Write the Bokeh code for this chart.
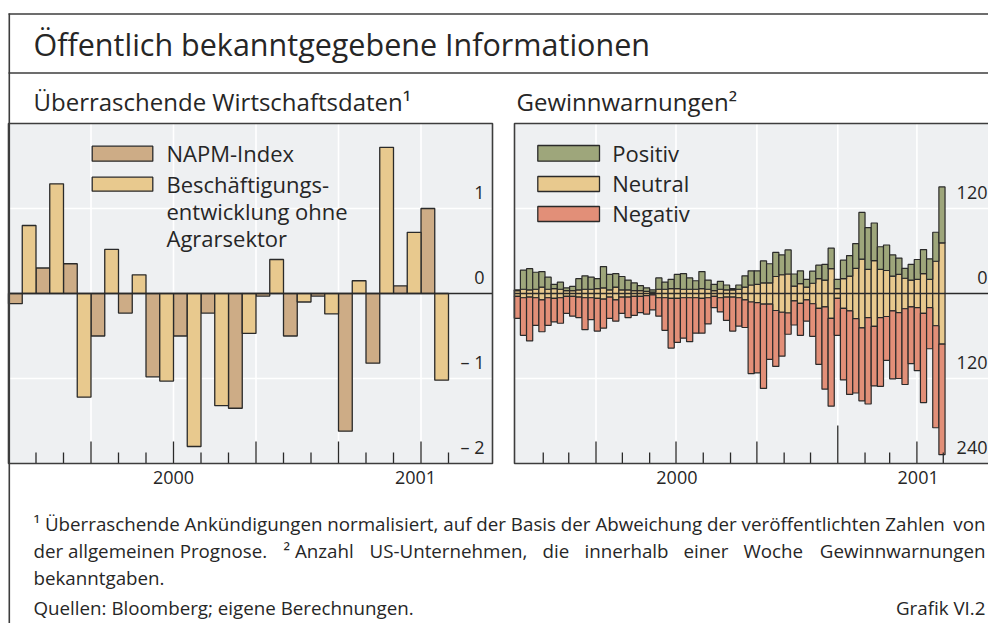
import numpy as np
import pandas as pd
from bokeh.plotting import figure
from bokeh.models import Range1d
from bokeh.core.properties import value
from bokeh.embed import file_html
from bokeh.resources import INLINE

# ---------------- data ----------------
months = ["2000-01", "2000-02", "2000-03", "2000-04", "2000-05", "2000-06",
          "2000-07", "2000-08", "2000-09", "2000-10", "2000-11", "2000-12",
          "2001-01", "2001-02", "2001-03", "2001-04"]
napm_index = [-0.12, 0.30, 0.35, -0.50, -0.23, -0.98, -0.50, -0.23,
              -1.35, -0.03, -0.50, -0.03, -1.62, -0.82, 0.09, 1.00]
employment = [0.80, 1.29, -1.22, 0.52, 0.22, -1.03, -1.80, -1.32,
              -0.47, 0.40, -0.10, -0.24, 0.15, 1.72, 0.72, -1.02]

first_week_end = "2000-01-07"
positive = [1, 27, 30, 24, 22, 17, 6, 10, 4, 6,
            16, 19, 17, 14, 30, 22, 19, 19, 14, 11,
            7, 5, 3, 16, 10, 13, 20, 22, 16, 12,
            24, 13, 9, 11, 7, 2, 6, 16, 20, 19,
            31, 27, 34, 28, 34, 17, 18, 11, 17, 19,
            22, 29, 13, 26, 29, 35, 66, 59, 53, 32,
            36, 30, 23, 14, 22, 28, 34, 29, 41, 79]
neutral = [8, 12, 10, 12, 18, 12, 14, 12, 8, 8,
           10, 12, 12, 14, 16, 10, 18, 10, 10, 8,
           8, 6, 4, 12, 12, 14, 14, 12, 12, 12,
           14, 12, 8, 12, 10, 10, 12, 18, 24, 26,
           30, 30, 48, 53, 55, 21, 28, 18, 29, 42,
           38, 70, 14, 42, 49, 71, 97, 68, 93, 68,
           65, 49, 54, 43, 38, 40, 56, 40, 91, 143]
negative = [31, 53, 62, 39, 45, 39, 33, 36, 24, 28,
            29, 45, 31, 46, 41, 30, 30, 23, 29, 27,
            23, 26, 21, 26, 46, 70, 62, 57, 62, 50,
            49, 37, 16, 20, 33, 48, 40, 39, 101, 99,
            119, 78, 79, 62, 30, 34, 45, 30, 46, 79,
            116, 124, 52, 101, 118, 105, 103, 122, 84, 97,
            62, 96, 93, 107, 80, 89, 126, 58, 144, 156]

left_tick_values = [1, 0, -1, -2]
left_tick_labels = ["1", "0", "\u2013 1", "\u2013 2"]
right_tick_values = [120, 0, -120, -240]
right_tick_labels = ["120", "0", "120", "240"]
year_labels = ["2000", "2001"]

legend_left = ["NAPM-Index", "Besch\u00e4ftigungs-\nentwicklung ohne\nAgrarsektor"]
legend_right = ["Positiv", "Neutral", "Negativ"]

title = "\u00d6ffentlich bekanntgegebene Informationen"
sub_left = "\u00dcberraschende Wirtschaftsdaten\u00b9"
sub_right = "Gewinnwarnungen\u00b2"

note1 = ["\u00b9 \u00dcberraschende Ank\u00fcndigungen normalisiert, auf der Basis der Abweichung der ver\u00f6ffentlichten Zahlen", "von"]
note2 = ["der allgemeinen Prognose.", "\u00b2 Anzahl", "US-Unternehmen,", "die", "innerhalb", "einer", "Woche", "Gewinnwarnungen"]
note3 = "bekanntgaben."
source = "Quellen: Bloomberg; eigene Berechnungen."
chart_id = "Grafik VI.2"

# ---------------- style / layout ----------------
W, H = 988, 623
X0, Y0 = 0, 0
FONT = value("Open Sans")
INK = "#262626"
FRAME = "#3d3d3d"
OUTLINE = "#2a2a2a"
PANEL_BG = "#eef0f2"
GRID = "#ffffff"
C_NAPM = "#cdac86"
C_EMP = "#e8c98e"
C_POS = "#9ea67b"
C_NEU = "#e8c98e"
C_NEG = "#e28f78"
BASE_FIX = 0.40          # observed baseline drop of rendered text, in em

p = figure(width=W, height=H, x_range=Range1d(X0, X0 + W), y_range=Range1d(Y0 + H, Y0),
           output_backend="svg", toolbar_location=None, min_border=0,
           x_axis_location=None, y_axis_location=None)
p.outline_line_color = None
p.grid.visible = False
p.background_fill_color = "white"
p.border_fill_color = "white"


def span_range(pa, pb, da, db, fa, fb):
    """Range whose values map page position pa->da and pb->db over the frame fa..fb."""
    k = (db - da) / (pb - pa)
    return Range1d(da + (fa - pa) * k, da + (fb - pa) * k)


def txt(x, y, text, size, y_off=0.0, **kw):
    """Text whose alphabetic baseline sits at y (+ y_off screen px)."""
    kw.setdefault("text_align", "left")
    p.text(x=x, y=y, text=text, text_font=FONT, text_font_size=f"{size}px",
           text_color=INK, text_baseline="alphabetic",
           y_offset=y_off - BASE_FIX * size, **kw)


# panel boxes (page px) and their data domains
LEFT = dict(px=(8, 492), py=(463, 123), dx=(0.0, 17.6), dy=(-2.0, 2.0))
RIGHT = dict(px=(514, 998), py=(463, 123), dx=(-1.7, 548.8), dy=(-240.0, 240.0))

p.extra_x_ranges["lx"] = span_range(*LEFT["px"], *LEFT["dx"], X0, X0 + W)
p.extra_y_ranges["ly"] = span_range(*LEFT["py"], *LEFT["dy"], Y0 + H, Y0)
p.extra_x_ranges["rx"] = span_range(*RIGHT["px"], *RIGHT["dx"], X0, X0 + W)
p.extra_y_ranges["ry"] = span_range(*RIGHT["py"], *RIGHT["dy"], Y0 + H, Y0)

L = dict(x_range_name="lx", y_range_name="ly")
R = dict(x_range_name="rx", y_range_name="ry")

# ---- panel backgrounds ----
for P in (LEFT, RIGHT):
    p.quad(left=P["px"][0], right=P["px"][1], top=P["py"][1], bottom=P["py"][0],
           fill_color=PANEL_BG, line_color=None)

# ---- left panel: time positions ----
m_idx = np.arange(len(months))
m_bound = m_idx + 1                                   # month boundaries
m_start = pd.PeriodIndex(months, freq="M").month.to_numpy()
next_month = (m_start % 12) + 1                       # month starting at each boundary
l_long = np.isin(next_month, [1, 4, 7, 10])

# ---- right panel: time positions ----
weeks = pd.date_range(first_week_end, periods=len(positive), freq="7D")
origin = pd.Timestamp("2000-01-01")
w_day = (weeks - origin).days.to_numpy().astype(float)
month_starts = pd.date_range("2000-02-01", weeks[-1], freq="MS")
r_tick = (month_starts - origin).days.to_numpy().astype(float)
r_long = np.isin(month_starts.month, [1, 4, 7, 10])
r_year = month_starts.month == 1

# ---- gridlines ----
lq = m_bound[l_long]
p.segment(x0=lq, x1=lq, y0=LEFT["dy"][0], y1=LEFT["dy"][1], line_color=GRID, line_width=1.6, **L)
p.segment(x0=LEFT["dx"][0], x1=LEFT["dx"][1], y0=[1, -1], y1=[1, -1], line_color=GRID, line_width=1.6, **L)
rq = r_tick[r_long]
p.segment(x0=rq, x1=rq, y0=RIGHT["dy"][0], y1=RIGHT["dy"][1], line_color=GRID, line_width=1.6, **R)
p.segment(x0=RIGHT["dx"][0], x1=RIGHT["dx"][1], y0=[120, -120], y1=[120, -120], line_color=GRID, line_width=1.6, **R)

# ---- left bars ----
p.vbar(x=m_idx + 0.25, width=0.5, top=napm_index, bottom=0,
       fill_color=C_NAPM, line_color=OUTLINE, line_width=1.3, **L)
p.vbar(x=m_idx + 0.75, width=0.5, top=employment, bottom=0,
       fill_color=C_EMP, line_color=OUTLINE, line_width=1.3, **L)

# ---- right stacked bars (neutral centred on zero) ----
pos = np.asarray(positive, float)
neu = np.asarray(neutral, float)
neg = np.asarray(negative, float)
xc = w_day - 4.5
half = neu / 2
p.vbar(x=xc, width=7, bottom=-half, top=half, fill_color=C_NEU, line_color=OUTLINE, line_width=1.2, **R)
p.vbar(x=xc, width=7, bottom=half, top=half + pos, fill_color=C_POS, line_color=OUTLINE, line_width=1.2, **R)
p.vbar(x=xc, width=7, bottom=-half - neg, top=-half, fill_color=C_NEG, line_color=OUTLINE, line_width=1.2, **R)

# ---- zero lines ----
p.segment(x0=LEFT["dx"][0], x1=LEFT["dx"][1], y0=0, y1=0, line_color=OUTLINE, line_width=1.3, **L)
p.segment(x0=RIGHT["dx"][0], x1=RIGHT["dx"][1], y0=0, y1=0, line_color=OUTLINE, line_width=1.3, **R)

# ---- bottom ticks (drawn upward from the panel floor) ----
l_len = np.where(l_long, 22, 11)
p.ray(x=m_bound, y=LEFT["dy"][0], length=l_len, length_units="screen", angle=np.pi / 2,
      line_color=OUTLINE, line_width=1.3, **L)
r_len = np.where(r_year, 38, np.where(r_long, 22, 11))
p.ray(x=r_tick, y=RIGHT["dy"][0], length=r_len, length_units="screen", angle=np.pi / 2,
      line_color=OUTLINE, line_width=1.3, **R)

# ---- panel borders ----
for P in (LEFT, RIGHT):
    p.quad(left=P["px"][0], right=P["px"][1], top=P["py"][1], bottom=P["py"][0],
           fill_color=None, line_color=FRAME, line_width=1.6)

# ---- value labels (inside the panels, above the gridlines) ----
txt([LEFT["dx"][1]] * 4, left_tick_values, left_tick_labels, 18, y_off=-9,
    x_offset=-8, text_align="right", **L)
txt([RIGHT["dx"][0]] * 4, right_tick_values, right_tick_labels, 18, y_off=-9,
    x_offset=(X0 + W - 1) - RIGHT["px"][0], text_align="right", **R)

# ---- year labels: centred in the visible part of each year ----
l_year_mid = [(0 + 12) / 2, (12 + LEFT["dx"][1]) / 2]
txt(l_year_mid, [LEFT["dy"][0]] * 2, year_labels, 18, y_off=21, text_align="center", **L)
jan01 = float((pd.Timestamp("2001-01-01") - origin).days)
r_year_mid = [(0 + jan01) / 2, (jan01 + RIGHT["dx"][1]) / 2]
txt(r_year_mid, [RIGHT["dy"][0]] * 2, year_labels, 18, y_off=21, text_align="center", **R)

# ---- outer frame ----
p.segment(x0=[8, 8, 8.8], x1=[X0 + W, X0 + W, 8.8], y0=[13.5, 72.5, 13], y1=[13.5, 72.5, Y0 + H],
          line_color=FRAME, line_width=1.6)

# ---- titles ----
txt([33], [56], [title], 30.5)
txt([33, 516], [111, 111], [sub_left, sub_right], 24)

# ---- legends ----
p.quad(left=[91.7, 91.7], right=[152.3, 152.3], top=[145.7, 176.7], bottom=[160.7, 190.7],
       fill_color=[C_NAPM, C_EMP], line_color=OUTLINE, line_width=1.3)
emp_lines = legend_left[1].split("\n")
txt([166] * 4, [161, 192, 219, 246], [legend_left[0]] + emp_lines, 22)

p.quad(left=[537.3] * 3, right=[599] * 3, top=[145, 176, 206], bottom=[160.7, 191, 221],
       fill_color=[C_POS, C_NEU, C_NEG], line_color=OUTLINE, line_width=1.3)
txt([611.7] * 3, [161, 191.5, 221.5], legend_right, 22)

# ---- footnotes (justified lines emulated by word placement) ----
FN = 18.75
RIGHT_EDGE = 985
txt([33], [530], [note1[0]], FN)
txt([RIGHT_EDGE], [530], [note1[1]], FN, text_align="right")
note2_x = [33, 283, 369, 542, 584, 683, 743]
txt(note2_x, [557] * len(note2_x), note2[:-1], FN)
txt([RIGHT_EDGE], [557], [note2[-1]], FN, text_align="right")
txt([33], [584], [note3], FN)
txt([33], [614], [source], FN)
txt([RIGHT_EDGE], [614], [chart_id], FN, text_align="right")

open("out.html", "w").write(file_html(p, INLINE))
